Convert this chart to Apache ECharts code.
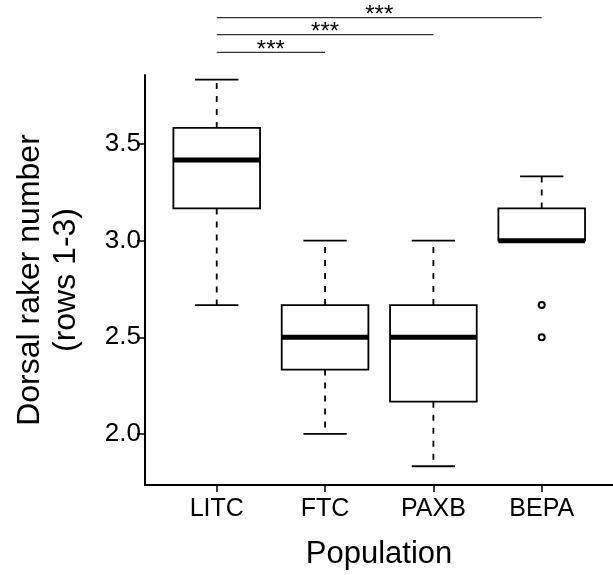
<!DOCTYPE html>
<html>
<head>
<meta charset="utf-8">
<script src="https://cdn.jsdelivr.net/npm/echarts@6/dist/echarts.min.js"></script>
<style>
  html, body { margin: 0; padding: 0; background: #fff; }
  #chart { width: 613px; height: 575px; }
</style>
</head>
<body>
<div id="chart"></div>
<script>
// populations along the x axis
var populations = ['LITC', 'FTC', 'PAXB', 'BEPA'];
// box summaries: lower whisker, Q1, median, Q3, upper whisker
var lowWhisker = [2.667, 2.0, 1.833, 3.0];
var q1 = [3.167, 2.333, 2.167, 3.0];
var medians = [3.417, 2.5, 2.5, 3.0];
var q3 = [3.583, 2.667, 2.667, 3.167];
var highWhisker = [3.833, 3.0, 3.0, 3.333];
// outliers: [population index (1-based), value]
var outliers = [[4, 2.667], [4, 2.5]];
// significance brackets: from population, to population, height, label
var bracketFrom = [1, 1, 1];
var bracketTo = [2, 3, 4];
var bracketY = [3.974, 4.066, 4.154];
var bracketText = ['***', '***', '***'];

var yTicks = [2.0, 2.5, 3.0, 3.5];
var xTicks = [1, 2, 3, 4];

var font = "'Liberation Sans', Arial, Helvetica, sans-serif";
var boxWidth = 0.8;

var boxData = populations.map(function (p, i) {
    return [i + 1, lowWhisker[i], q1[i], medians[i], q3[i], highWhisker[i]];
});
var bracketData = bracketFrom.map(function (f, i) {
    return [f, bracketTo[i], bracketY[i]];
});

function renderBox(params, api) {
    var x = api.value(0);
    var lo = api.coord([x, api.value(1)]);
    var b1 = api.coord([x, api.value(2)]);
    var md = api.coord([x, api.value(3)]);
    var b3 = api.coord([x, api.value(4)]);
    var hi = api.coord([x, api.value(5)]);
    var w = api.size([boxWidth, 0])[0];
    var cx = lo[0];
    var dash = { stroke: '#000', lineWidth: 1.8, lineDash: [6, 7] };
    var solid = { stroke: '#000', lineWidth: 1.8 };
    return {
        type: 'group',
        children: [
            { type: 'line', shape: { x1: cx, y1: b3[1], x2: cx, y2: hi[1] }, style: dash },
            { type: 'line', shape: { x1: cx, y1: b1[1], x2: cx, y2: lo[1] }, style: dash },
            { type: 'line', shape: { x1: cx - w / 4, y1: hi[1], x2: cx + w / 4, y2: hi[1] }, style: solid },
            { type: 'line', shape: { x1: cx - w / 4, y1: lo[1], x2: cx + w / 4, y2: lo[1] }, style: solid },
            { type: 'rect', shape: { x: cx - w / 2, y: b3[1], width: w, height: b1[1] - b3[1] },
              style: { fill: '#fff', stroke: '#000', lineWidth: 1.8 } },
            { type: 'line', shape: { x1: cx - w / 2, y1: md[1], x2: cx + w / 2, y2: md[1] },
              style: { stroke: '#000', lineWidth: 5 } }
        ]
    };
}

function renderBracket(params, api) {
    var a = api.coord([api.value(0), api.value(2)]);
    var b = api.coord([api.value(1), api.value(2)]);
    return {
        type: 'group',
        children: [
            { type: 'line', shape: { x1: a[0], y1: a[1], x2: b[0], y2: b[1] },
              style: { stroke: '#333', lineWidth: 1.3 } },
            { type: 'text', x: (a[0] + b[0]) / 2, y: a[1] - 2,
              style: { text: bracketText[params.dataIndex], align: 'center', verticalAlign: 'middle',
                       font: '24px ' + font, fill: '#000' } }
        ]
    };
}

var chart = echarts.init(document.getElementById('chart'));
chart.setOption({
    animation: false,
    backgroundColor: '#fff',
    grid: { left: 145, right: 0, top: 75, bottom: 88 },
    xAxis: {
        type: 'value',
        min: 0.338,
        max: 4.658,
        splitLine: { show: false },
        axisLine: { show: true, onZero: false, lineStyle: { color: '#000', width: 2 } },
        axisTick: { show: true, customValues: xTicks, length: 7, lineStyle: { color: '#000', width: 1.5 } },
        axisLabel: {
            customValues: xTicks, margin: 12, color: '#000', fontSize: 25, fontFamily: font,
            formatter: function (v) { return populations[Math.round(v) - 1]; }
        },
        name: 'Population',
        nameLocation: 'middle',
        nameGap: 54,
        nameTextStyle: { color: '#000', fontSize: 31, fontFamily: font }
    },
    yAxis: {
        type: 'value',
        min: 1.736,
        max: 3.857,
        splitLine: { show: false },
        axisLine: { show: true, onZero: false, lineStyle: { color: '#000', width: 2 } },
        axisTick: { show: true, customValues: yTicks, length: 8, lineStyle: { color: '#000', width: 1.5 } },
        axisLabel: {
            customValues: yTicks, margin: 4, color: '#000', fontSize: 26, fontFamily: font,
            formatter: function (v) { return v.toFixed(1); }
        },
        name: 'Dorsal raker number\n(rows 1-3)',
        nameLocation: 'middle',
        nameRotate: 90,
        nameGap: 61,
        nameTextStyle: { color: '#000', fontSize: 32, lineHeight: 36, fontFamily: font, align: 'center' }
    },
    series: [
        {
            type: 'custom',
            renderItem: renderBox,
            encode: { x: 0, y: [1, 2, 3, 4, 5] },
            data: boxData,
            z: 2
        },
        {
            type: 'scatter',
            data: outliers,
            symbol: 'circle',
            symbolSize: 6,
            itemStyle: { color: '#fff', borderColor: '#000', borderWidth: 2, opacity: 1 },
            z: 3
        },
        {
            type: 'custom',
            renderItem: renderBracket,
            clip: false,
            encode: { x: [0, 1], y: 2 },
            data: bracketData,
            z: 3
        }
    ]
});
</script>
</body>
</html>
